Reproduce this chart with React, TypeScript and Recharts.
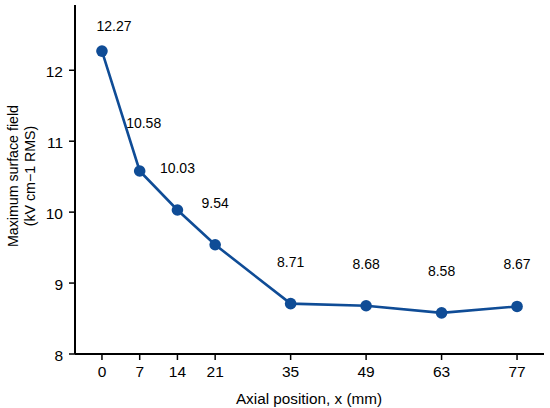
import React from 'react';
import { LineChart, Line, XAxis, YAxis, LabelList } from 'recharts';

const positions = [0, 7, 14, 21, 35, 49, 63, 77];
const fieldValues = [12.27, 10.58, 10.03, 9.54, 8.71, 8.68, 8.58, 8.67];
const xTicks = [0, 7, 14, 21, 35, 49, 63, 77];
const yTicks = [8, 9, 10, 11, 12];

const data = positions.map((x, i) => ({ x, v: fieldValues[i] }));

const FONT = '"Liberation Sans", Arial, sans-serif';
const COLOR = '#0f4c96';
const TICK_FS = 15.5;

const renderLabel = (props: any) => {
  const { x, y, value, index } = props;
  let dx = 0;
  let dy = -42;
  if (index === 0) { dx = 12; dy = -25; }
  else if (index === 1) { dx = 4; dy = -48; }
  return (
    <text x={x + dx} y={y + dy} textAnchor="middle" dominantBaseline="central" fontSize={14} fontFamily={FONT} fill="#000">
      {value.toFixed(2)}
    </text>
  );
};

const XTick = (props: any) => {
  const { x, y, payload } = props;
  return (
    <text x={x} y={y + 9.7} textAnchor="middle" dominantBaseline="central" fontSize={TICK_FS} fontFamily={FONT} fill="#000">
      {payload.value}
    </text>
  );
};

const YTick = (props: any) => {
  const { x, y, payload } = props;
  return (
    <text x={x - 4} y={y + 1} textAnchor="end" dominantBaseline="central" fontSize={TICK_FS} fontFamily={FONT} fill="#000">
      {payload.value}
    </text>
  );
};

export default function App() {
  return (
    <div style={{ position: 'absolute', left: 0, top: 0, background: '#fff' }}>
      <LineChart width={550} height={408} data={data} margin={{ top: 5, right: 6, left: 0, bottom: 0 }}>
        <XAxis
          dataKey="x"
          type="number"
          domain={[-5, 82]}
          ticks={xTicks}
          interval={0}
          allowDataOverflow
          tickSize={6}
          height={54}
          axisLine={{ stroke: '#000', strokeWidth: 2 }}
          tickLine={{ stroke: '#000', strokeWidth: 1.5 }}
          tick={<XTick />}
          label={{
            content: () => (
              <text x={309} y={398} textAnchor="middle" dominantBaseline="central" fontSize={15.3} fontFamily={FONT} fill="#000">
                Axial position, x (mm)
              </text>
            ),
          }}
        />
        <YAxis
          type="number"
          domain={[8, 12.92]}
          ticks={yTicks}
          interval={0}
          allowDataOverflow
          tickSize={6}
          width={75}
          axisLine={{ stroke: '#000', strokeWidth: 2 }}
          tickLine={{ stroke: '#000', strokeWidth: 1.5 }}
          tick={<YTick />}
          label={{
            content: () => (
              <g transform="translate(21,176) rotate(-90)">
                <text x={0} y={-8.5} textAnchor="middle" dominantBaseline="central" fontSize={14.2} fontFamily={FONT} fill="#000">
                  Maximum surface field
                </text>
                <text x={0} y={8.5} textAnchor="middle" dominantBaseline="central" fontSize={14.2} fontFamily={FONT} fill="#000">
                  (kV cm−1 RMS)
                </text>
              </g>
            ),
          }}
        />
        <Line
          type="linear"
          dataKey="v"
          stroke={COLOR}
          strokeWidth={2.6}
          dot={{ r: 5.8, fill: COLOR, stroke: COLOR, strokeWidth: 0 }}
          activeDot={false}
          isAnimationActive={false}
        >
          <LabelList dataKey="v" content={renderLabel} />
        </Line>
      </LineChart>
    </div>
  );
}
